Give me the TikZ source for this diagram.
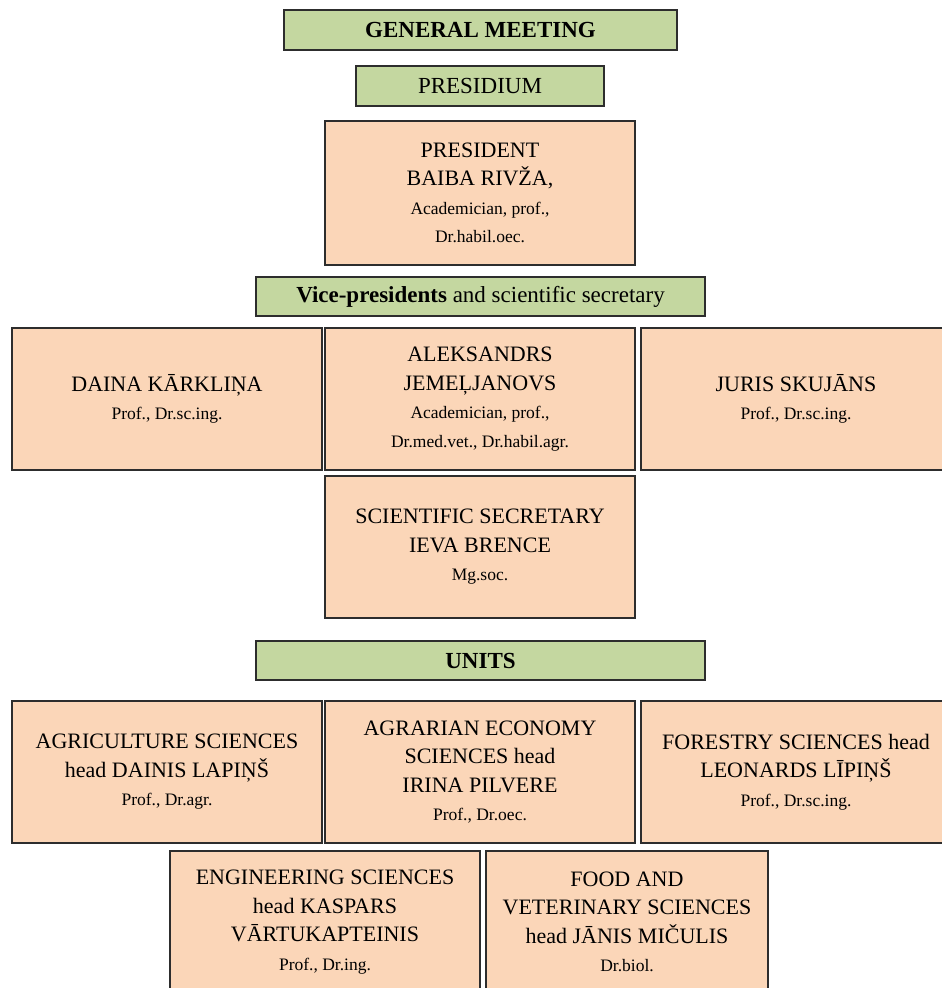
\documentclass[tikz,border=0pt]{standalone}
\usepackage{fontspec}
\setmainfont{Liberation Serif}
\definecolor{boxgreen}{RGB}{196,215,160}
\definecolor{boxpeach}{RGB}{251,214,184}
\definecolor{boxline}{RGB}{45,45,45}
\newcommand{\dgr}[1]{{\fontsize{17.5}{28.5}\selectfont #1}}
\begin{document}
\begin{tikzpicture}[x=1pt,y=-1pt,
  greenbox/.style={draw=boxline, line width=1.3pt, fill=boxgreen, inner sep=0pt,
    minimum height=40pt, font=\fontsize{23}{28.5}\selectfont},
  peachbox/.style={draw=boxline, line width=1.3pt, fill=boxpeach, inner sep=0pt,
    minimum width=310pt, minimum height=142pt, align=center,
    font=\fontsize{22}{28.5}\selectfont}]
\useasboundingbox (0,0) rectangle (942,988);
\clip (0,0) rectangle (942,988);
\fill[white] (0,0) rectangle (942,988);

\node[greenbox, minimum width=393pt] (gm) at (480.5,30) {\textbf{GENERAL MEETING}};
\node[greenbox, minimum width=248pt] (presidium) at (480,86) {PRESIDIUM};
\node[peachbox, minimum height=144pt] (president) at (480,193)
  {PRESIDENT\\BAIBA RIVŽA,\\\dgr{Academician, prof.,}\\\dgr{Dr.habil.oec.}};
\node[greenbox, minimum width=449pt, minimum height=39pt] (vice) at (480.5,296.5)
  {\textbf{Vice-presidents} and scientific secretary};

\node[peachbox] (daina) at (167,399) {DAINA KĀRKLIŅA\\\dgr{Prof., Dr.sc.ing.}};
\node[peachbox] (aleks) at (480,399)
  {ALEKSANDRS\\JEMEĻJANOVS\\\dgr{Academician, prof.,}\\\dgr{Dr.med.vet., Dr.habil.agr.}};
\node[peachbox] (juris) at (796,399) {JURIS SKUJĀNS\\\dgr{Prof., Dr.sc.ing.}};
\node[peachbox] (secretary) at (480,547)
  {SCIENTIFIC SECRETARY\\IEVA BRENCE\\\dgr{Mg.soc.}};

\node[greenbox, minimum width=449pt, minimum height=39pt] (units) at (480.5,660.5) {\textbf{UNITS}};

\node[peachbox] (agri) at (167,772)
  {AGRICULTURE SCIENCES\\head DAINIS LAPIŅŠ\\\dgr{Prof., Dr.agr.}};
\node[peachbox] (agrarian) at (480,772)
  {AGRARIAN ECONOMY\\SCIENCES head\\IRINA PILVERE\\\dgr{Prof., Dr.oec.}};
\node[peachbox] (forestry) at (796,772)
  {FORESTRY SCIENCES head\\LEONARDS LĪPIŅŠ\\\dgr{Prof., Dr.sc.ing.}};

\node[peachbox] (eng) at (325,922)
  {ENGINEERING SCIENCES\\head KASPARS\\VĀRTUKAPTEINIS\\\dgr{Prof., Dr.ing.}};
\node[peachbox, minimum width=282pt] (food) at (627,922)
  {FOOD AND\\VETERINARY SCIENCES\\head JĀNIS MIČULIS\\\dgr{Dr.biol.}};
\end{tikzpicture}
\end{document}
